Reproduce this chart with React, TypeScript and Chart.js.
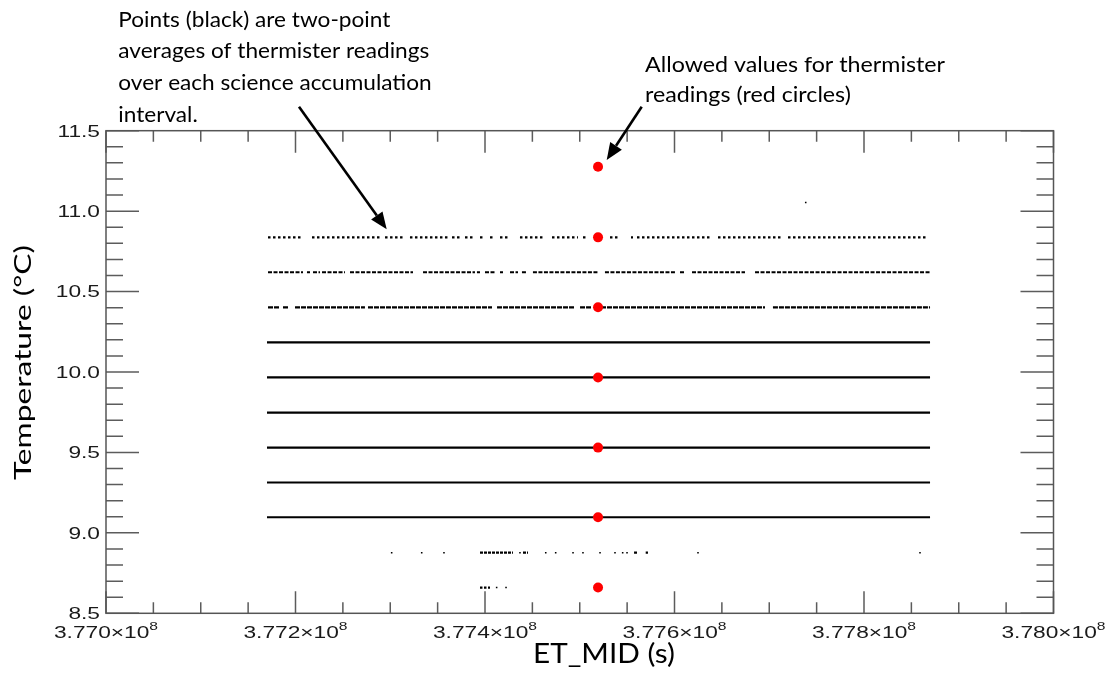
import React, { useEffect, useRef } from "react";
import { Chart, registerables } from "chart.js";

Chart.register(...registerables);

// ---- axes ----
const X_MIN = 377000000;
const X_MAX = 378000000;
const Y_MIN = 8.5;
const Y_MAX = 11.5;
const xMajorTicks = [377000000, 377200000, 377400000, 377600000, 377800000, 378000000];
const xTickLabels = ["3.770", "3.772", "3.774", "3.776", "3.778", "3.780"];
const yMajorTicks = [8.5, 9.0, 9.5, 10.0, 10.5, 11.0, 11.5];
const yTickLabels = ["8.5", "9.0", "9.5", "10.0", "10.5", "11.0", "11.5"];
const X_MINOR_STEP = 50000;
const Y_MINOR_STEP = 0.1;

// ---- allowed thermister values (red circles) ----
const allowedX = 377519300;
const allowedTemps = [11.276, 10.837, 10.402, 9.966, 9.53, 9.097, 8.66];

// ---- two-point averages (black) ----
const denseTemps = [10.184, 9.966, 9.748, 9.53, 9.313, 9.097];
const denseRun: [number, number] = [377169900, 377869700];

const runs10837: [number, number][] = [
  [377171000, 377207000], [377217400, 377291300], [377294500, 377315600],
  [377320800, 377360900], [377365200, 377375700], [377378900, 377389400],
  [377394700, 377397900], [377405300, 377408400], [377415800, 377424300],
  [377436900, 377463300], [377470700, 377498100], [377503400, 377508700],
  [377531900, 377540400], [377554100, 377556200], [377560400, 377639600],
  [377645900, 377713500], [377719800, 377867500],
];
const runs10620: [number, number][] = [
  [377171000, 377207900], [377212100, 377215300], [377218500, 377225900],
  [377228000, 377252200], [377257500, 377324000], [377334600, 377389400],
  [377391500, 377394700], [377400000, 377410500], [377415800, 377419000],
  [377426400, 377434800], [377439000, 377444300], [377450600, 377519300],
  [377526600, 377600500], [377605800, 377611100], [377618500, 377674400],
  [377685000, 377869700],
];
const runs10402: [number, number][] = [
  [377171000, 377183600], [377186800, 377192100], [377199500, 377273300],
  [377276500, 377407400], [377412700, 377495000], [377500300, 377512900],
  [377516100, 377695500], [377703900, 377869700],
];
const runs8877: [number, number][] = [
  [377394700, 377429500], [377440100, 377445400], [377557300, 377560400], [377569600, 377572000],
];
const points8877 = [
  377301500, 377333200, 377356700, 377436900, 377464100, 377474600, 377492900,
  377503400, 377521400, 377537200, 377545300, 377549900, 377624800, 377859100,
];
const runs8660: [number, number][] = [[377394700, 377405300]];
const points8660 = [377412300, 377422200];
const strayX = 377738500;
const strayY = 11.054;

function runsToData(runs: [number, number][], y: number) {
  const out: { x: number; y: number | null }[] = [];
  runs.forEach(([a, b]) => {
    out.push({ x: a, y }, { x: b, y }, { x: b, y: null });
  });
  return out;
}

const FONT_TICK = '"Liberation Sans", Arial, sans-serif';
const FONT_NOTE = 'Lato, "Open Sans", sans-serif';

function fitText(ctx: CanvasRenderingContext2D, text: string, x: number, y: number, width: number, align: "left" | "center") {
  const w = ctx.measureText(text).width;
  const sx = width / w;
  ctx.save();
  ctx.translate(x, y);
  ctx.scale(sx, 1);
  ctx.textAlign = align;
  ctx.fillText(text, 0, 0);
  ctx.restore();
  return sx;
}

function arrow(ctx: CanvasRenderingContext2D, x0: number, y0: number, x1: number, y1: number) {
  const ang = Math.atan2(y1 - y0, x1 - x0);
  const L = 17, H = 7;
  const bx = x1 - L * Math.cos(ang), by = y1 - L * Math.sin(ang);
  ctx.beginPath();
  ctx.moveTo(x0, y0);
  ctx.lineTo(bx, by);
  ctx.lineWidth = 2.6;
  ctx.strokeStyle = "#000";
  ctx.stroke();
  ctx.beginPath();
  ctx.moveTo(x1, y1);
  ctx.lineTo(bx + H * Math.sin(ang), by - H * Math.cos(ang));
  ctx.lineTo(bx - H * Math.sin(ang), by + H * Math.cos(ang));
  ctx.closePath();
  ctx.fillStyle = "#000";
  ctx.fill();
}

const framePlugin = {
  id: "frame",
  afterDraw(chart: any) {
    const { ctx, chartArea: a } = chart;
    const xs = chart.scales.x, ys = chart.scales.y;
    ctx.save();
    // ticks (inside, mirrored)
    ctx.strokeStyle = "#5c5c5c";
    ctx.lineWidth = 1.5;
    ctx.beginPath();
    const nx = Math.round((X_MAX - X_MIN) / X_MINOR_STEP);
    for (let i = 0; i <= nx; i++) {
      const px = xs.getPixelForValue(X_MIN + i * X_MINOR_STEP);
      const len = i % 4 === 0 ? 22 : 11;
      ctx.moveTo(px, a.bottom); ctx.lineTo(px, a.bottom - len);
      ctx.moveTo(px, a.top); ctx.lineTo(px, a.top + len);
    }
    const ny = Math.round((Y_MAX - Y_MIN) / Y_MINOR_STEP);
    for (let i = 0; i <= ny; i++) {
      const py = ys.getPixelForValue(Y_MIN + i * Y_MINOR_STEP);
      const len = i % 5 === 0 ? 33 : 17;
      ctx.moveTo(a.left, py); ctx.lineTo(a.left + len, py);
      ctx.moveTo(a.right, py); ctx.lineTo(a.right - len, py);
    }
    ctx.stroke();
    ctx.strokeStyle = "#555";
    ctx.strokeRect(a.left, a.top, a.right - a.left, a.bottom - a.top);

    // tick labels
    const SX = 1.42;
    ctx.fillStyle = "#1a1a1a";
    ctx.textBaseline = "alphabetic";
    xMajorTicks.forEach((v, i) => {
      const cx = xs.getPixelForValue(v);
      const main = xTickLabels[i] + "\u00d710";
      ctx.font = `16px ${FONT_TICK}`;
      const mw = ctx.measureText(main).width;
      ctx.font = `11px ${FONT_TICK}`;
      const sw = ctx.measureText("8").width;
      const total = (mw + sw) * SX;
      const left = cx - total / 2;
      ctx.save();
      ctx.translate(left, a.bottom + 25);
      ctx.scale(SX, 1);
      ctx.font = `16px ${FONT_TICK}`;
      ctx.textAlign = "left";
      ctx.fillText(main, 0, 0);
      ctx.font = `11px ${FONT_TICK}`;
      ctx.fillText("8", mw, -8.7);
      ctx.restore();
    });
    yMajorTicks.forEach((v, i) => {
      const py = ys.getPixelForValue(v);
      ctx.save();
      ctx.font = `16px ${FONT_TICK}`;
      ctx.translate(a.left - 6, py + 5.8);
      ctx.scale(SX, 1);
      ctx.textAlign = "right";
      ctx.fillText(yTickLabels[i], 0, 0);
      ctx.restore();
    });

    // axis titles
    ctx.fillStyle = "#000";
    ctx.font = `23px ${FONT_NOTE}`;
    ctx.save();
    ctx.translate(30.5, (a.top + a.bottom) / 2 - 9.5);
    ctx.rotate(-Math.PI / 2);
    fitText(ctx, "Temperature (\u00b0C)", 0, 0, 235, "center");
    ctx.restore();
    ctx.font = `26px ${FONT_NOTE}`;
    fitText(ctx, "ET_MID (s)", 604, 663, 142, "center");

    // annotations
    ctx.font = `21px ${FONT_NOTE}`;
    const w1 = ctx.measureText("Points (black) are two-point").width;
    const s1 = 272 / w1;
    const lines1 = [
      "Points (black) are two-point",
      "averages of thermister readings",
      "over each science accumulation",
      "interval.",
    ];
    lines1.forEach((t, i) => {
      ctx.save();
      ctx.translate(118.3, 26.7 + i * 31.7);
      ctx.scale(s1, 1);
      ctx.textAlign = "left";
      ctx.fillText(t, 0, 0);
      ctx.restore();
    });
    const w2 = ctx.measureText("Allowed values for thermister").width;
    const s2 = 300 / w2;
    ["Allowed values for thermister", "readings (red circles)"].forEach((t, i) => {
      ctx.save();
      ctx.translate(645, 71.7 + i * 30.5);
      ctx.scale(s2, 1);
      ctx.textAlign = "left";
      ctx.fillText(t, 0, 0);
      ctx.restore();
    });
    arrow(ctx, 299, 106.7, 386.7, 229.3);
    arrow(ctx, 641.7, 106.7, 606.7, 160);
    ctx.restore();
  },
};

export default function App() {
  const ref = useRef<HTMLCanvasElement | null>(null);
  useEffect(() => {
    if (!ref.current) return;
    const black = "#000000";
    const datasets: any[] = [];
    datasets.push({
      type: "scatter",
      label: "allowed",
      data: allowedTemps.map((t) => ({ x: allowedX, y: t })),
      backgroundColor: "#ff0000",
      borderWidth: 0,
      pointRadius: 5,
      order: 0,
    });
    datasets.push({
      type: "line",
      label: "dense",
      data: denseTemps.flatMap((t) => runsToData([denseRun], t)),
      borderColor: black,
      borderWidth: 2.2,
      pointRadius: 0,
      spanGaps: false,
      order: 2,
    });
    const dashed: [[number, number][], number, number[]][] = [
      [runs10837, 10.837, [2.5, 2.5]],
      [runs10620, 10.62, [4, 1.5]],
      [runs10402, 10.402, [5, 1]],
      [runs8877, 8.877, [3, 1]],
      [runs8660, 8.66, [2.5, 1.5]],
    ];
    dashed.forEach(([runs, t, dash]) => {
      datasets.push({
        type: "line",
        label: "row " + t,
        data: runsToData(runs, t),
        borderColor: black,
        borderWidth: 2.2,
        borderDash: dash,
        pointRadius: 0,
        spanGaps: false,
        order: 2,
      });
    });
    datasets.push({
      type: "scatter",
      label: "sparse",
      data: [
        ...points8877.map((x) => ({ x, y: 8.877 })),
        ...points8660.map((x) => ({ x, y: 8.66 })),
        { x: strayX, y: strayY },
      ],
      backgroundColor: black,
      borderWidth: 0,
      pointStyle: "rect",
      pointRadius: 1.1,
      order: 1,
    });

    const chart = new Chart(ref.current, {
      type: "scatter",
      data: { datasets },
      options: {
        animation: false,
        responsive: false,
        devicePixelRatio: 1,
        layout: { padding: { left: 106, right: 54.5, top: 130.7, bottom: 78.7 } },
        plugins: { legend: { display: false }, tooltip: { enabled: false } },
        scales: {
          x: { type: "linear", min: X_MIN, max: X_MAX, display: false },
          y: { type: "linear", min: Y_MIN, max: Y_MAX, display: false },
        },
      },
      plugins: [framePlugin],
    } as any);
    return () => chart.destroy();
  }, []);
  return (
    <div style={{ position: "absolute", left: 0, top: 0, width: 1108, height: 692, background: "#fff" }}>
      <canvas ref={ref} width={1108} height={692} />
    </div>
  );
}
